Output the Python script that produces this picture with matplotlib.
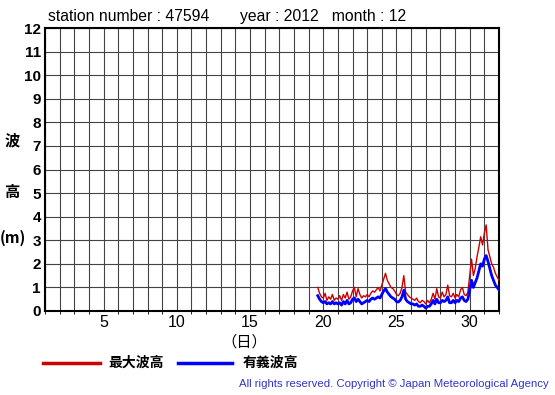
import matplotlib
matplotlib.use('Agg')
import matplotlib.pyplot as plt
import numpy as np

# 3-hourly readings, from day 19 15:00 to day 32 00:00
start_day = 19.625
step = 0.125
max_wave = [1.0, 0.75, 0.6,
            0.55, 0.75, 0.45, 0.6, 0.5, 0.7, 0.45, 0.55,
            0.5, 0.65, 0.45, 0.7, 0.55, 0.8, 0.5, 0.6,
            0.85, 1.0, 0.6, 0.95, 0.7, 0.55, 0.65, 0.6,
            0.7, 0.6, 0.75, 0.85, 0.8, 0.9, 1.0, 0.85,
            1.1, 1.35, 1.6, 1.3, 1.15, 1.0, 0.95, 0.85,
            0.7, 0.65, 0.75, 1.0, 1.5, 0.8, 0.7, 0.6,
            0.55, 0.5, 0.45, 0.55, 0.4, 0.35, 0.45, 0.4,
            0.3, 0.45, 0.35, 0.5, 0.75, 0.5, 0.95, 0.6,
            0.55, 0.8, 0.6, 0.7, 1.1, 0.65, 0.6, 0.75,
            0.55, 0.7, 0.6, 0.9, 1.0, 0.7, 0.65, 0.8,
            1.5, 2.2, 1.5, 1.8, 2.3, 2.7, 3.15, 2.8,
            3.3, 3.65, 2.6, 2.3, 2.0, 1.85, 1.6, 1.45,
            1.3]
sig_wave = [0.65, 0.5, 0.4,
            0.35, 0.4, 0.3, 0.35, 0.3, 0.4, 0.3, 0.35,
            0.3, 0.35, 0.25, 0.4, 0.3, 0.45, 0.3, 0.35,
            0.5, 0.55, 0.4, 0.5, 0.4, 0.3, 0.35, 0.4,
            0.45, 0.4, 0.5, 0.55, 0.5, 0.55, 0.6, 0.55,
            0.7, 0.85, 0.95, 0.8, 0.7, 0.6, 0.55, 0.5,
            0.4, 0.38, 0.45, 0.6, 0.88, 0.5, 0.4, 0.35,
            0.3, 0.3, 0.25, 0.3, 0.2, 0.2, 0.25, 0.2,
            0.12, 0.2, 0.2, 0.3, 0.45, 0.3, 0.5, 0.35,
            0.35, 0.45, 0.4, 0.45, 0.6, 0.35, 0.35, 0.45,
            0.35, 0.45, 0.4, 0.55, 0.6, 0.45, 0.4, 0.5,
            0.9, 1.3, 1.0, 1.2, 1.4, 1.7, 2.0, 1.9,
            2.2, 2.35, 2.1, 1.8, 1.5, 1.3, 1.1, 1.0,
            0.9]
x_ticks = [5, 10, 15, 20, 25, 30]
y_ticks = list(range(0, 13))

days = start_day + step * np.arange(len(max_wave))

plt.rcParams['font.family'] = ['Liberation Sans', 'Noto Sans CJK JP', 'DejaVu Sans']
cjk = ['Noto Sans CJK JP', 'DejaVu Sans']

fig = plt.figure(figsize=(5.55, 3.95), dpi=100)
ax = fig.add_axes([45/555, 1 - 311/395, 454/555, 283/395])

ax.plot(days, max_wave, color='#cc0000', linewidth=1.0, zorder=3)
ax.plot(days, sig_wave, color='#0000ff', linewidth=2.0, zorder=4)

ax.set_xlim(1, 32)
ax.set_ylim(0, 12)
ax.set_xticks(np.arange(1, 33), minor=True)
ax.set_xticks(x_ticks)
ax.set_yticks(y_ticks)
ax.grid(True, which='both', color='#444444', linewidth=0.8)
ax.tick_params(length=0, pad=3)
ax.tick_params(axis='x', labelsize=11.5)
for lab in ax.get_yticklabels():
    lab.set_fontweight('bold')
    lab.set_fontsize(11)
for s in ax.spines.values():
    s.set_linewidth(1.5)

fig.text(48/555, 1 - 17/395, 'station number : 47594       year : 2012   month : 12',
         fontsize=11.3, va='center', ha='left')
fig.text(244/555, 1 - 342/395, '（日）', fontsize=11, family=cjk, ha='center', va='center')
fig.text(12/555, 1 - 140/395, '波', fontsize=11, family=cjk, ha='center', va='center', weight='bold')
fig.text(12/555, 1 - 192/395, '高', fontsize=11, family=cjk, ha='center', va='center', weight='bold')
fig.text(13/555, 1 - 238/395, '(m)', fontsize=11, family=cjk, ha='center', va='center', weight='bold')

fig.add_artist(plt.Line2D([43/555, 100/555], [1 - 363/395] * 2, color='#cc0000', linewidth=2.5))
fig.text(108/555, 1 - 363/395, '最大波高', fontsize=10, family=cjk, weight='bold', va='center')
fig.add_artist(plt.Line2D([178/555, 232/555], [1 - 363/395] * 2, color='#0000ff', linewidth=2.5))
fig.text(243/555, 1 - 363/395, '有義波高', fontsize=10, family=cjk, weight='bold', va='center')

fig.text(549/555, 1 - 384/395, 'All rights reserved. Copyright © Japan Meteorological Agency',
         fontsize=8.2, color='#3333cc', ha='right', va='center')

fig.savefig('out.png', dpi=100)
